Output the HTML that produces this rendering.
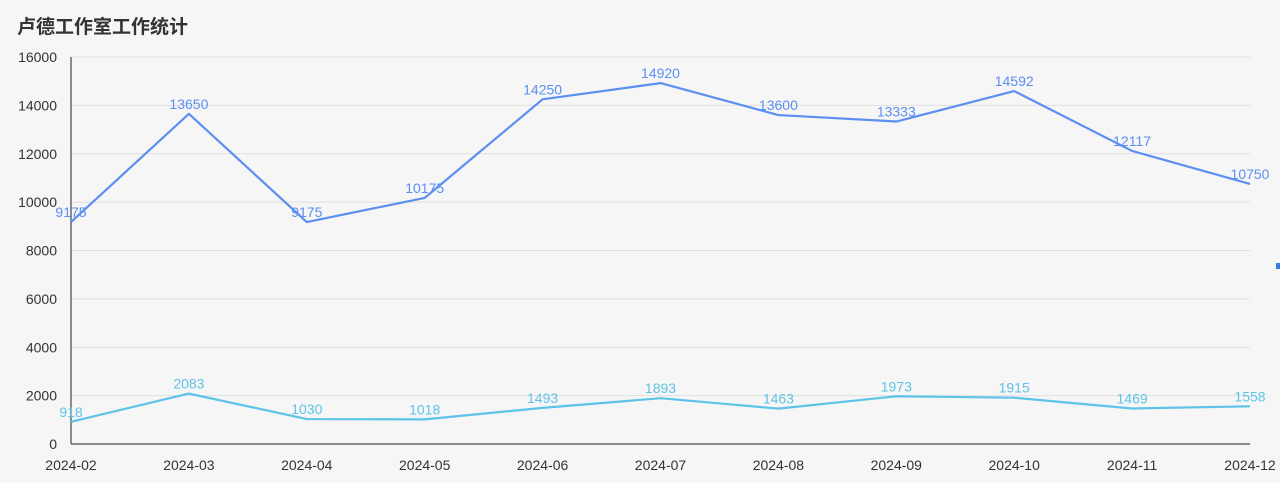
<!DOCTYPE html>
<html><head><meta charset="utf-8"><style>
body{margin:0;background:#f6f6f6;}
svg{display:block;font-family:"Liberation Sans","Noto Sans CJK SC",sans-serif;}
</style></head><body>
<svg id="c" width="1280" height="483">
<rect width="1280" height="483" fill="#f6f6f6"/>
<text x="17" y="33" font-size="19" font-weight="bold" fill="#333">卢德工作室工作统计</text>
<rect x="1276" y="263" width="4" height="6" fill="#3a7be0"/>
</svg>
<script>
const categories=["2024-02","2024-03","2024-04","2024-05","2024-06","2024-07","2024-08","2024-09","2024-10","2024-11","2024-12"];
const seriesA=[9175,13650,9175,10175,14250,14920,13600,13333,14592,12117,10750];
const seriesB=[918,2083,1030,1018,1493,1893,1463,1973,1915,1469,1558];
const yTicks=[0,2000,4000,6000,8000,10000,12000,14000,16000];
const svg=document.getElementById('c');const NS='http://www.w3.org/2000/svg';
const L=71,R=1250,T=57,B=444,YMAX=16000;
const x=i=>L+(R-L)*i/(categories.length-1);
const y=v=>B-(B-T)*v/YMAX;
function mk(t,a){const e=document.createElementNS(NS,t);for(const k in a)e.setAttribute(k,a[k]);svg.appendChild(e);return e;}
yTicks.forEach(v=>{
 if(v>0){const g=mk('line',{x1:L,x2:R,y1:y(v),y2:y(v),stroke:'#e0e0e0','stroke-width':1});
 
 }
 const t=mk('text',{x:57,y:y(v)+5,'text-anchor':'end','font-size':14,fill:'#333'});t.textContent=v;
 
 
});
const ax=mk('line',{x1:L,x2:L,y1:T,y2:B,stroke:'#666','stroke-width':1.5});


const bx=mk('line',{x1:L,x2:R,y1:B,y2:B,stroke:'#666','stroke-width':1.5});


categories.forEach((c,i)=>{
 let anchor='middle';if(i==categories.length-1)anchor='middle';
 const t=mk('text',{x:x(i),y:470,'text-anchor':anchor,'font-size':14,fill:'#333'});t.textContent=c;
 
 
});
function series(vals,color,name){
 const p=mk('polyline',{points:vals.map((v,i)=>x(i)+','+y(v)).join(' '),fill:'none',stroke:color,'stroke-width':2.2,'stroke-linejoin':'round'});
 
 
 vals.forEach((v,i)=>{
  const t=mk('text',{x:x(i),y:y(v)-5,'text-anchor':'middle','font-size':14,fill:color});t.textContent=v;
  
  
 });
}
series(seriesA,'#5b8ff0','series-a');
series(seriesB,'#5ec3e8','series-b');
</script>
</body></html>
